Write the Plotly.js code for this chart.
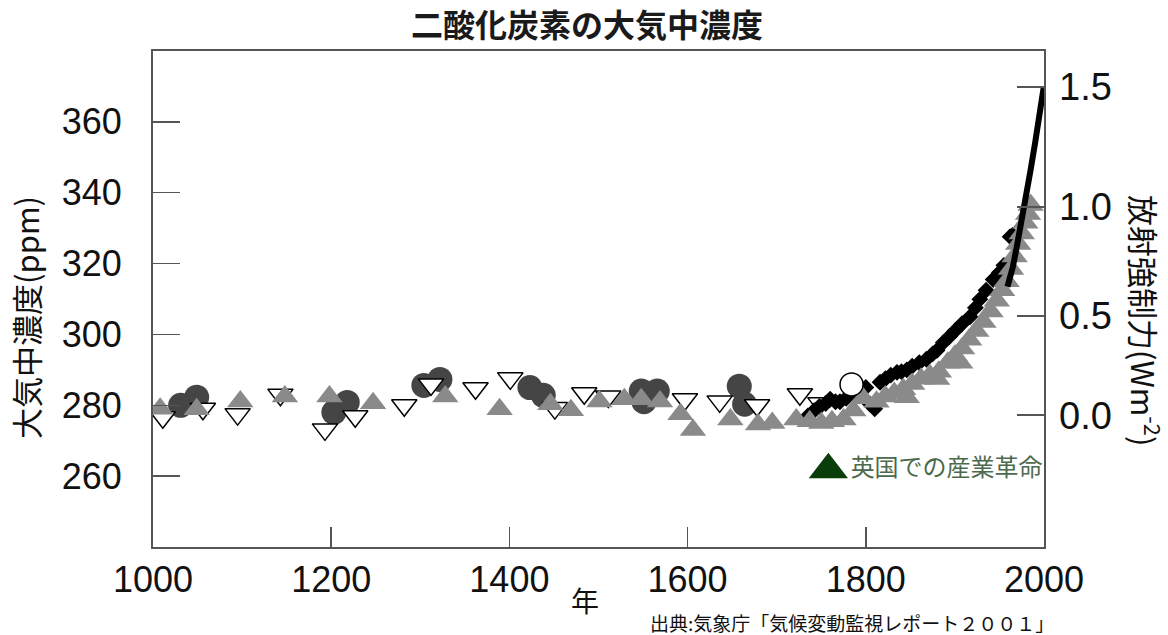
<!DOCTYPE html>
<html><head><meta charset="utf-8">
<script src="https://cdn.plot.ly/plotly-3.0.1.min.js"></script>
<style>html,body{margin:0;padding:0;background:#fff;}#chart{width:1168px;height:635px;}</style>
</head><body><div id="chart"></div>
<script>
// ---- data ----
const darkCircleYears = [1031, 1049, 1203, 1218, 1304, 1322, 1423, 1438, 1548, 1566, 1551, 1658, 1664];
const darkCirclePpm   = [280, 282.3, 278, 280.8, 285.6, 287.3, 285, 282.8, 284, 284, 281, 285.4, 280.3];

const openDownYears = [1011, 1056, 1095, 1143, 1193, 1227, 1282, 1312, 1362, 1401, 1451, 1484, 1511, 1597, 1636, 1678, 1726, 1749];
const openDownPpm   = [276.6, 279, 277.5, 283, 273.2, 276.9, 280, 285.9, 284.8, 287.6, 279.2, 283.4, 282.5, 281.7, 281.1, 280, 283.1, 280.6];

const blackYears = [1735, 1742, 1748, 1755, 1760, 1766, 1771, 1778, 1790, 1800, 1805, 1810, 1816, 1822, 1828, 1835, 1840, 1846, 1852, 1860, 1868, 1875, 1880, 1887, 1894, 1900, 1908, 1917, 1923, 1928, 1935, 1943, 1950, 1955, 1962, 1965];
const blackPpm   = [277, 278.5, 279.7, 280.5, 281.7, 281, 281, 282, 283.5, 285, 280.3, 279, 286.5, 287.5, 288.5, 289.3, 289.5, 290, 291, 292, 293, 294.5, 295.5, 297.7, 299.4, 301, 303, 305, 307.5, 309.9, 312.5, 315.5, 317.5, 319.5, 327.6, 328];

const grayUpYears = [1008, 1049, 1098, 1148, 1198, 1247, 1328, 1389, 1446, 1469, 1501, 1529, 1548, 1569, 1592, 1606, 1648, 1679, 1695, 1722,
                     1737, 1750, 1762, 1775, 1786, 1797, 1812, 1822, 1832, 1842, 1846, 1852, 1862, 1872, 1880, 1882, 1892, 1900, 1906, 1908, 1916, 1924, 1932, 1940, 1947, 1953, 1958, 1963, 1967, 1971, 1975, 1979, 1982, 1985];
const grayUpPpm   = [279, 278.9, 281.1, 282.5, 282.5, 280.6, 282.5, 278.9, 280.3, 278.6, 281.1, 281.7, 281.7, 281.1, 277.5, 273, 276, 274.6, 275, 276,
                     275.5, 275, 275.5, 276, 278.5, 282, 281, 282.5, 283.5, 284.5, 282.3, 286, 287.5, 288.5, 287.4, 289.5, 292, 294, 292, 296, 298.5, 301, 303.5, 306.5, 309.5, 312.5, 315, 318.5, 322, 325.5, 328.5, 331.5, 334, 336.5];

const openCircleYears = [1784];
const openCirclePpm   = [285.9];

const maunaLoaYears = [1959, 1965, 1970, 1975, 1980, 1985, 1990, 1995, 1999.5];
const maunaLoaPpm   = [313.5, 319, 325.5, 332, 339, 346.5, 354, 361.5, 369.5];

const industrialYear = [1758];
const industrialPpm  = [261.8];
const industrialLabel = ['英国での産業革命'];

const ppmTicks = [260, 280, 300, 320, 340, 360];
const xTicks = [1000, 1200, 1400, 1600, 1800, 2000];
const forcingTicks = [0.0, 0.5, 1.0, 1.5];
const forcingLabels = ['0.0', '0.5', '1.0', '1.5'];

// forcing axis: F = k * ln(C / C0)
const C0 = 277.2, K = 5.2;
const forcingTickPpm = forcingTicks.map(f => C0 * Math.exp(f / K));

const latin = 'Liberation Sans, Arial, sans-serif';
const cjk = 'Noto Sans CJK JP, sans-serif';

const traces = [
  {x: darkCircleYears, y: darkCirclePpm, mode: 'markers', type: 'scatter',
   marker: {symbol: 'circle', size: 25, color: '#454545', line: {width: 0}}},
  {x: openDownYears, y: openDownPpm, mode: 'markers', type: 'scatter',
   marker: {symbol: 'triangle-down', size: 22, color: '#ffffff', line: {width: 1.5, color: '#000'}}},
  {x: blackYears, y: blackPpm, mode: 'markers', type: 'scatter',
   marker: {symbol: 'diamond', size: 13, color: '#000', line: {width: 0}}},
  {x: grayUpYears, y: grayUpPpm, mode: 'markers', type: 'scatter',
   marker: {symbol: 'triangle-up', size: 23, color: '#8a8a8a', line: {width: 0}}},
  {x: openCircleYears, y: openCirclePpm, mode: 'markers', type: 'scatter',
   marker: {symbol: 'circle', size: 23, color: '#fff', line: {width: 1.5, color: '#000'}}},
  {x: maunaLoaYears, y: maunaLoaPpm, mode: 'lines', type: 'scatter',
   line: {color: '#000', width: 6}},
  {x: industrialYear, y: industrialPpm, mode: 'markers+text', type: 'scatter',
   text: industrialLabel, textposition: 'middle right',
   textfont: {family: cjk, size: 24, color: '#4c6a4c'},
   marker: {symbol: 'triangle-up', size: 34, color: '#0b3d0b', line: {width: 0}}},
  // carrier so the forcing axis (yaxis2) is drawn; it has no points
  {x: [], y: [], yaxis: 'y2', type: 'scatter', mode: 'markers', hoverinfo: 'skip'}
];

const layout = {
  width: 1168, height: 635,
  margin: {l: 153, r: 124, t: 51, b: 88, pad: 0},
  paper_bgcolor: '#fff', plot_bgcolor: '#fff',
  showlegend: false,
  title: {text: '二酸化炭素の大気中濃度', x: 0.5026, xanchor: 'center', y: 0.96, yanchor: 'middle', yref: 'container',
          font: {family: cjk, size: 32, color: '#1a1a1a', weight: 'bold'}},
  xaxis: {range: [1000, 2000], tickvals: xTicks, ticktext: xTicks.map(String),
          ticks: 'inside', ticklen: 20, tickwidth: 1.5, tickcolor: '#555',
          showline: true, mirror: true, linecolor: '#555', linewidth: 2,
          showgrid: false, zeroline: false,
          tickfont: {family: latin, size: 36, color: '#111'}, ticklabelstandoff: 0},
  yaxis: {range: [240, 380], tickvals: ppmTicks, ticktext: ppmTicks.map(String),
          ticks: 'inside', ticklen: 27, tickwidth: 1.5, tickcolor: '#555',
          showline: true, mirror: true, linecolor: '#555', linewidth: 2,
          showgrid: false, zeroline: false,
          tickfont: {family: latin, size: 36, color: '#111'}, ticklabelstandoff: 22},
  yaxis2: {overlaying: 'y', side: 'right', range: [240, 380], anchor: 'x',
           tickvals: forcingTickPpm, ticktext: forcingLabels,
           ticks: 'inside', ticklen: 27, tickwidth: 1.5, tickcolor: '#555',
           showline: false, showgrid: false, zeroline: false,
           tickfont: {family: latin, size: 38, color: '#111'}, ticklabelstandoff: 14},
  annotations: [
    {text: '大気中濃度(ppm)', xref: 'paper', yref: 'paper', x: -0.1425, y: 0.4617, xanchor: 'center', yanchor: 'middle',
     textangle: -90, showarrow: false, font: {family: cjk, size: 31, color: '#111'}},
    {text: '放射強制力(Wm<sup>-2</sup>)', xref: 'paper', yref: 'paper', x: 1.1134, y: 0.4577, xanchor: 'center', yanchor: 'middle',
     textangle: 90, showarrow: false, font: {family: cjk, size: 31, color: '#111'}},
    {text: '年', xref: 'paper', yref: 'paper', x: 0.4848, y: -0.1069, xanchor: 'center', yanchor: 'middle',
     showarrow: false, font: {family: cjk, size: 28, color: '#111'}},
    {text: '出典:気象庁「気候変動監視レポート２００１」', xref: 'paper', yref: 'paper', x: 1.013, y: -0.1532, xanchor: 'right', yanchor: 'middle',
     showarrow: false, font: {family: cjk, size: 19, color: '#111'}}
  ]
};

Plotly.newPlot('chart', traces, layout, {staticPlot: true, displayModeBar: false});
</script>
</body></html>
